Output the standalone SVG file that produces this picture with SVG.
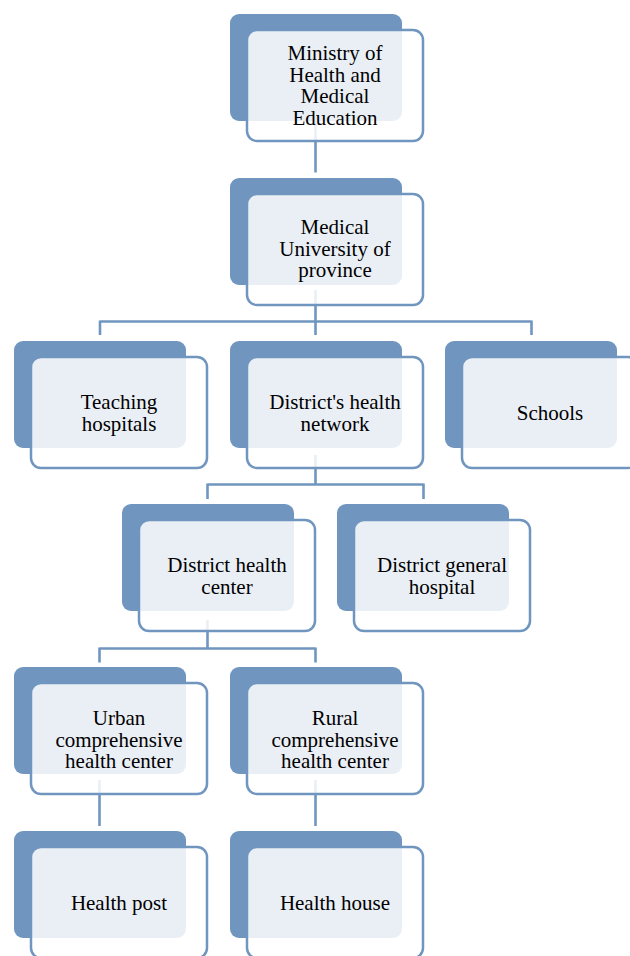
<svg xmlns="http://www.w3.org/2000/svg" width="630" height="956" viewBox="0 0 630 956" font-family="Liberation Serif, Times New Roman, serif">
<style>
.bg{fill:#7096c0}
.fg{fill:#ffffff;fill-opacity:0.85;stroke:#7096c0;stroke-width:2.5}
.c{fill:none;stroke:#7096c0;stroke-width:2.6}
.t{font-family:'Liberation Serif','Times New Roman',serif;font-size:21px;fill:#000000;text-anchor:middle}
</style>
<rect width="630" height="956" fill="#ffffff"/>
<g id="connectors">
<path class="c" d="M315.5,110 V172.5"/>
<path class="c" d="M315.5,290 V321.5 M100,321.5 H531.5 M100,320.5 V335 M531.5,320.5 V335 M315.5,321.5 V335"/>
<path class="c" d="M315.5,455 V484.5 M207.5,484.5 H423.5 M207.5,483.5 V499 M423.5,483.5 V499"/>
<path class="c" d="M207.5,620 V648.5 M99.5,648.5 H315.5 M99.5,647.5 V662.5 M315.5,647.5 V662.5"/>
<path class="c" d="M99.5,780 V826 M315.5,780 V826"/>
</g>
<g id="n1" class="t"><rect class="bg" x="230" y="14" width="172" height="107" rx="9"/><rect class="fg" x="247" y="30" width="176" height="111" rx="10"/>
<text x="335" y="60">Ministry of</text><text x="335" y="81.7">Health and</text><text x="335" y="103.4">Medical</text><text x="335" y="125.1">Education</text></g>
<g id="n2" class="t"><rect class="bg" x="230" y="178" width="172" height="107" rx="9"/><rect class="fg" x="247" y="194" width="176" height="111" rx="10"/>
<text x="335" y="234">Medical</text><text x="335" y="255.7">University of</text><text x="335" y="277.4">province</text></g>
<g id="n3" class="t"><rect class="bg" x="14" y="341" width="172" height="107" rx="9"/><rect class="fg" x="31" y="357" width="176" height="111" rx="10"/>
<text x="119" y="409">Teaching</text><text x="119" y="430.7">hospitals</text></g>
<g id="n4" class="t"><rect class="bg" x="230" y="341" width="172" height="107" rx="9"/><rect class="fg" x="247" y="357" width="176" height="111" rx="10"/>
<text x="335" y="409">District's health</text><text x="335" y="430.7">network</text></g>
<g id="n5" class="t"><rect class="bg" x="445" y="341" width="172" height="107" rx="9"/><rect class="fg" x="462" y="357" width="176" height="111" rx="10"/>
<text x="550" y="420">Schools</text></g>
<g id="n6" class="t"><rect class="bg" x="122" y="504" width="172" height="107" rx="9"/><rect class="fg" x="139" y="520" width="176" height="111" rx="10"/>
<text x="227" y="572">District health</text><text x="227" y="593.7">center</text></g>
<g id="n7" class="t"><rect class="bg" x="337" y="504" width="172" height="107" rx="9"/><rect class="fg" x="354" y="520" width="176" height="111" rx="10"/>
<text x="442" y="572">District general</text><text x="442" y="593.7">hospital</text></g>
<g id="n8" class="t"><rect class="bg" x="14" y="667" width="172" height="107" rx="9"/><rect class="fg" x="31" y="683" width="176" height="111" rx="10"/>
<text x="119" y="725">Urban</text><text x="119" y="746.7">comprehensive</text><text x="119" y="768.4">health center</text></g>
<g id="n9" class="t"><rect class="bg" x="230" y="667" width="172" height="107" rx="9"/><rect class="fg" x="247" y="683" width="176" height="111" rx="10"/>
<text x="335" y="725">Rural</text><text x="335" y="746.7">comprehensive</text><text x="335" y="768.4">health center</text></g>
<g id="n10" class="t"><rect class="bg" x="14" y="831" width="172" height="107" rx="9"/><rect class="fg" x="31" y="847" width="176" height="111" rx="10"/>
<text x="119" y="910">Health post</text></g>
<g id="n11" class="t"><rect class="bg" x="230" y="831" width="172" height="107" rx="9"/><rect class="fg" x="247" y="847" width="176" height="111" rx="10"/>
<text x="335" y="910">Health house</text></g>
</svg>
